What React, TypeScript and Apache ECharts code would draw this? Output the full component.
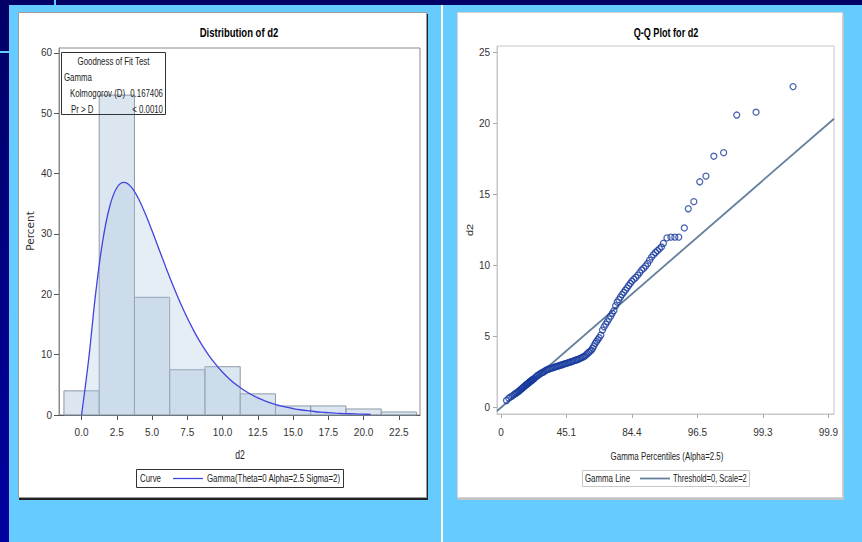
import React, { useEffect, useRef } from 'react';
import * as echarts from 'echarts';

// ---------- Histogram (left panel) ----------
const binCenters = [0, 2.5, 5, 7.5, 10, 12.5, 15, 17.5, 20, 22.5];
const binPercents = [4.0, 53.0, 19.5, 7.5, 8.0, 3.5, 1.5, 1.5, 1.0, 0.5];
const binWidth = 2.5;
const histTicks = [0, 2.5, 5, 7.5, 10, 12.5, 15, 17.5, 20, 22.5];
const percentTicks = [0, 10, 20, 30, 40, 50, 60];

// Fitted gamma curve
const curveX = [0, 0.5, 1, 1.5, 2, 2.5, 3, 3.5, 4, 4.5, 5, 5.5, 6, 6.5, 7, 7.5, 8, 8.5, 9, 9.5, 10, 10.5, 11, 11.5, 12, 12.5, 13, 13.5, 14, 14.5, 15, 15.5, 16, 16.5, 17, 17.5, 18, 18.5, 19, 19.5, 20, 20.5];
const curveY = [0, 9.15, 20.16, 28.85, 34.59, 37.65, 38.54, 37.83, 35.99, 33.45, 30.51, 27.41, 24.33, 21.36, 18.59, 16.06, 13.78, 11.75, 9.97, 8.42, 7.08, 5.94, 4.96, 4.13, 3.43, 2.84, 2.34, 1.93, 1.59, 1.30, 1.07, 0.87, 0.71, 0.58, 0.47, 0.39, 0.31, 0.25, 0.21, 0.17, 0.14, 0.11];

// ---------- Q-Q plot (right panel) ----------
const qqQuantiles = [
  0.17, 0.24, 0.30, 0.35, 0.40, 0.44, 0.48, 0.51, 0.54, 0.57, 0.60, 0.63, 0.65, 0.68, 0.70, 0.72, 0.75, 0.77, 0.79, 0.81, 0.83, 0.85, 0.87, 0.89, 0.91, 0.93, 0.95, 0.96, 0.98, 1.00,
  1.04, 1.08, 1.12, 1.16, 1.20, 1.24, 1.28, 1.32, 1.36, 1.40, 1.44, 1.48, 1.52, 1.56, 1.60, 1.64, 1.68, 1.72, 1.76, 1.80, 1.84, 1.88, 1.92, 1.96, 2.00,
  2.04, 2.08, 2.12, 2.16, 2.20, 2.24, 2.28, 2.32, 2.36, 2.40, 2.44, 2.48, 2.52, 2.56, 2.60, 2.64, 2.68, 2.72, 2.76, 2.80, 2.84, 2.88, 2.92, 2.96, 3.00,
  3.05, 3.10, 3.15, 3.20, 3.25, 3.30, 3.35, 3.40, 3.45, 3.50, 3.55, 3.60, 3.65, 3.70, 3.75, 3.80, 3.85, 3.90, 3.95, 4.00,
  4.06, 4.12, 4.18, 4.24, 4.30, 4.36, 4.42, 4.48, 4.54, 4.60, 4.66, 4.72, 4.78, 4.84, 4.90, 4.96,
  5.07, 5.19, 5.31, 5.43, 5.60, 5.72, 5.89, 6.07, 6.26, 6.50, 6.80, 7.20, 7.79, 8.92,
];
const qqValues = [
  0.50, 0.66, 0.75, 0.83, 0.92, 0.98, 1.04, 1.09, 1.14, 1.20, 1.27, 1.32, 1.36, 1.42, 1.46, 1.50, 1.56, 1.60, 1.63, 1.67, 1.71, 1.75, 1.79, 1.82, 1.86, 1.90, 1.93, 1.95, 1.99, 2.02,
  2.10, 2.18, 2.26, 2.33, 2.38, 2.44, 2.49, 2.54, 2.60, 2.65, 2.70, 2.73, 2.76, 2.79, 2.82, 2.85, 2.88, 2.91, 2.94, 2.97, 3.00, 3.03, 3.06, 3.09, 3.12,
  3.15, 3.18, 3.21, 3.24, 3.27, 3.31, 3.34, 3.37, 3.40, 3.45, 3.49, 3.54, 3.58, 3.63, 3.71, 3.80, 3.88, 3.96, 4.04, 4.18, 4.35, 4.52, 4.66, 4.79, 4.92,
  5.10, 5.46, 5.69, 5.88, 6.06, 6.25, 6.44, 6.64, 6.83, 7.17, 7.42, 7.60, 7.78, 7.96, 8.12, 8.27, 8.43, 8.59, 8.74, 8.90,
  9.04, 9.17, 9.33, 9.51, 9.69, 9.82, 9.97, 10.15, 10.38, 10.60, 10.77, 10.92, 11.05, 11.18, 11.31, 11.57,
  11.95, 12.0, 12.0, 12.0, 12.65, 14.0, 14.5, 15.9, 16.3, 17.7, 17.95, 20.6, 20.8, 22.6,
];
const qqLineX = [-0.12, 10.17];
const qqLineY = [-0.24, 20.34];
const qqTickValues = [0, 2, 4, 6, 8, 10];
const qqTickLabels = ['0', '45.1', '84.4', '96.5', '99.3', '99.9'];
const qqYTicks = [0, 5, 10, 15, 20, 25];

const FONT = "'Liberation Sans', Arial, sans-serif";
const BAR_FILL = 'rgba(173,198,223,0.43)';

function txt(text: string, x: number, y: number, opts: any = {}) {
  return {
    type: 'text',
    x,
    y,
    rotation: opts.rotation || 0,
    scaleX: opts.rotation ? 1 : (opts.scaleX ?? 0.75),
    scaleY: opts.rotation ? (opts.scaleX ?? 0.75) : 1,
    z: 10,
    style: {
      text,
      fill: opts.fill || '#222',
      fontSize: opts.fontSize || 10.5,
      fontFamily: opts.fontFamily || FONT,
      fontWeight: opts.fontWeight || 'normal',
      align: opts.align || 'left',
      verticalAlign: 'middle',
    },
  };
}

export default function App() {
  const ref = useRef<HTMLDivElement>(null);

  useEffect(() => {
    document.body.style.margin = '0';
    const chart = echarts.init(ref.current!, null, { renderer: 'svg' });

    const axisLabelBase = { fontSize: 10, fontFamily: FONT, color: '#333' };

    const option: any = {
      animation: false,
      backgroundColor: 'transparent',
      grid: [
        { left: 59, top: 48, width: 361, height: 367, show: true, borderColor: '#8a8a8a', borderWidth: 1, backgroundColor: 'transparent' },
        { left: 497, top: 46, width: 337, height: 368, show: true, borderColor: '#c8c8c8', borderWidth: 1, backgroundColor: 'transparent' },
      ],
      xAxis: [
        {
          type: 'value', gridIndex: 0, min: -1.6, max: 24,
          axisLine: { show: true, onZero: false, lineStyle: { color: '#555' } },
          axisTick: { show: true, length: 5, customValues: histTicks, lineStyle: { color: '#555' } },
          axisLabel: { ...axisLabelBase, customValues: histTicks, margin: 12, formatter: (v: number) => v.toFixed(1) },
          splitLine: { show: false },
        },
        {
          type: 'value', gridIndex: 1, min: -0.12, max: 10.17,
          axisLine: { show: true, onZero: false, lineStyle: { color: '#c8c8c8' } },
          axisTick: { show: true, length: 4, customValues: qqTickValues, lineStyle: { color: '#aaa' } },
          axisLabel: {
            ...axisLabelBase, customValues: qqTickValues, margin: 13,
            formatter: (v: number) => qqTickLabels[qqTickValues.indexOf(v)] ?? '',
          },
          splitLine: { show: false },
        },
      ],
      yAxis: [
        {
          type: 'value', gridIndex: 0, min: 0, max: 60.8,
          axisLine: { show: true, onZero: false, lineStyle: { color: '#8a8a8a' } },
          axisTick: { show: true, length: 5, customValues: percentTicks, lineStyle: { color: '#555' } },
          axisLabel: { ...axisLabelBase, customValues: percentTicks, margin: 7 },
          splitLine: { show: false },
        },
        {
          type: 'value', gridIndex: 1, min: -0.45, max: 25.46,
          axisLine: { show: true, onZero: false, lineStyle: { color: '#c8c8c8' } },
          axisTick: { show: true, length: 4, customValues: qqYTicks, lineStyle: { color: '#aaa' } },
          axisLabel: { ...axisLabelBase, customValues: qqYTicks, margin: 7 },
          splitLine: { show: false },
        },
      ],
      series: [
        {
          type: 'custom',
          name: 'Histogram',
          xAxisIndex: 0,
          yAxisIndex: 0,
          data: binCenters.map((c, i) => [c, binPercents[i]]),
          renderItem: (_params: any, api: any) => {
            const c = api.value(0);
            const h = api.value(1);
            const p0 = api.coord([c - binWidth / 2, h]);
            const p1 = api.coord([c + binWidth / 2, 0]);
            return {
              type: 'rect',
              shape: { x: p0[0], y: p0[1], width: p1[0] - p0[0], height: p1[1] - p0[1] },
              style: { fill: BAR_FILL, stroke: '#8d9aa8', lineWidth: 1 },
            };
          },
          z: 2,
        },
        {
          type: 'line',
          name: 'Gamma(Theta=0 Alpha=2.5 Sigma=2)',
          xAxisIndex: 0,
          yAxisIndex: 0,
          data: curveX.map((x, i) => [x, curveY[i]]),
          showSymbol: false,
          smooth: 0.35,
          lineStyle: { color: '#4343dd', width: 1.3 },
          areaStyle: { color: BAR_FILL },
          z: 3,
        },
        {
          type: 'line',
          name: 'Threshold=0, Scale=2',
          xAxisIndex: 1,
          yAxisIndex: 1,
          data: qqLineX.map((x, i) => [x, qqLineY[i]]),
          showSymbol: false,
          lineStyle: { color: '#64809e', width: 1.8 },
          z: 2,
        },
        {
          type: 'scatter',
          name: 'd2',
          xAxisIndex: 1,
          yAxisIndex: 1,
          data: qqQuantiles.map((q, i) => [q, qqValues[i]]),
          symbol: 'circle',
          symbolSize: 6,
          itemStyle: { color: 'rgba(0,0,0,0)', borderColor: '#17399c', borderWidth: 1.25 },
          z: 3,
        },
      ],
      graphic: [
        // Left panel texts
        txt('Distribution of d2', 239, 32, { align: 'center', fontSize: 13, fontWeight: 'bold', fill: '#000', scaleX: 0.73 }),
        txt('Percent', 30, 231, { align: 'center', rotation: Math.PI / 2, fontSize: 10.5, fontFamily: "'DejaVu Sans',sans-serif", scaleX: 1, fill: '#333' }),
        txt('d2', 240, 455, { align: 'center', fontSize: 12, scaleX: 0.72 }),
        // Goodness of fit inset
        { type: 'rect', z: 10, shape: { x: 61.5, y: 52.5, width: 104, height: 62 }, style: { fill: 'none', stroke: '#333', lineWidth: 1 } },
        txt('Goodness of Fit Test', 113.5, 62, { align: 'center' }),
        txt('Gamma', 64, 78),
        txt('Kolmogorov (D)', 70, 94),
        txt('0.167406', 163, 94, { align: 'right' }),
        txt('Pr > D', 71, 110),
        txt('< 0.0010', 163, 110, { align: 'right' }),
        // Left legend
        { type: 'rect', z: 10, shape: { x: 136.5, y: 469.5, width: 207, height: 18 }, style: { fill: '#fff', stroke: '#333', lineWidth: 1 } },
        txt('Curve', 140, 478.5),
        { type: 'line', z: 11, shape: { x1: 173, y1: 478.5, x2: 203, y2: 478.5 }, style: { stroke: '#4343dd', lineWidth: 1.3 } },
        txt('Gamma(Theta=0 Alpha=2.5 Sigma=2)', 207, 478.5),
        // Right panel texts
        txt('Q-Q Plot for d2', 666, 32, { align: 'center', fontSize: 13, fontWeight: 'bold', fill: '#000', scaleX: 0.7 }),
        txt('d2', 470, 230, { align: 'center', rotation: Math.PI / 2, fontSize: 11, scaleX: 0.8 }),
        txt('Gamma Percentiles (Alpha=2.5)', 667, 456, { align: 'center', fontSize: 11, scaleX: 0.72 }),
        { type: 'rect', z: 10, shape: { x: 582.5, y: 470.5, width: 167, height: 16 }, style: { fill: '#fff', stroke: '#c8c8c8', lineWidth: 1 } },
        txt('Gamma Line', 585, 478.5),
        { type: 'line', z: 11, shape: { x1: 640, y1: 478.5, x2: 670, y2: 478.5 }, style: { stroke: '#64809e', lineWidth: 1.8 } },
        txt('Threshold=0, Scale=2', 673, 478.5, { scaleX: 0.72 }),
      ],
    };

    chart.setOption(option);
    return () => chart.dispose();
  }, []);

  const abs = (l: number, t: number, w: number, h: number, extra: any = {}) => ({
    position: 'absolute' as const, left: l, top: t, width: w, height: h, ...extra,
  });

  return (
    <div style={{ position: 'relative', width: 862, height: 542, background: '#66CCFF', overflow: 'hidden' }}>
      {/* slide decorations */}
      <div style={abs(0, 0, 862, 5, { background: '#000066' })} />
      <div style={abs(0, 0, 9, 542, { background: 'linear-gradient(#000066, #0000a0)' })} />
      <div style={abs(54, 0, 2, 5, { background: '#66CCFF' })} />
      <div style={abs(0, 51, 9, 2, { background: '#66CCFF' })} />
      <div style={abs(441, 5, 2, 537, { background: '#ffffff' })} />
      {/* cards */}
      <div style={abs(18, 12, 407, 484, { background: '#fff', border: '1px solid #9c9c9c', boxShadow: '1px 2px 0 #222' })} />
      <div style={abs(457, 12, 384, 484, { background: '#fff', border: '1px solid #d4d4d4', boxShadow: '1px 2px 0 #c4c4c4' })} />
      <div ref={ref} style={abs(0, 0, 862, 542)} />
    </div>
  );
}
